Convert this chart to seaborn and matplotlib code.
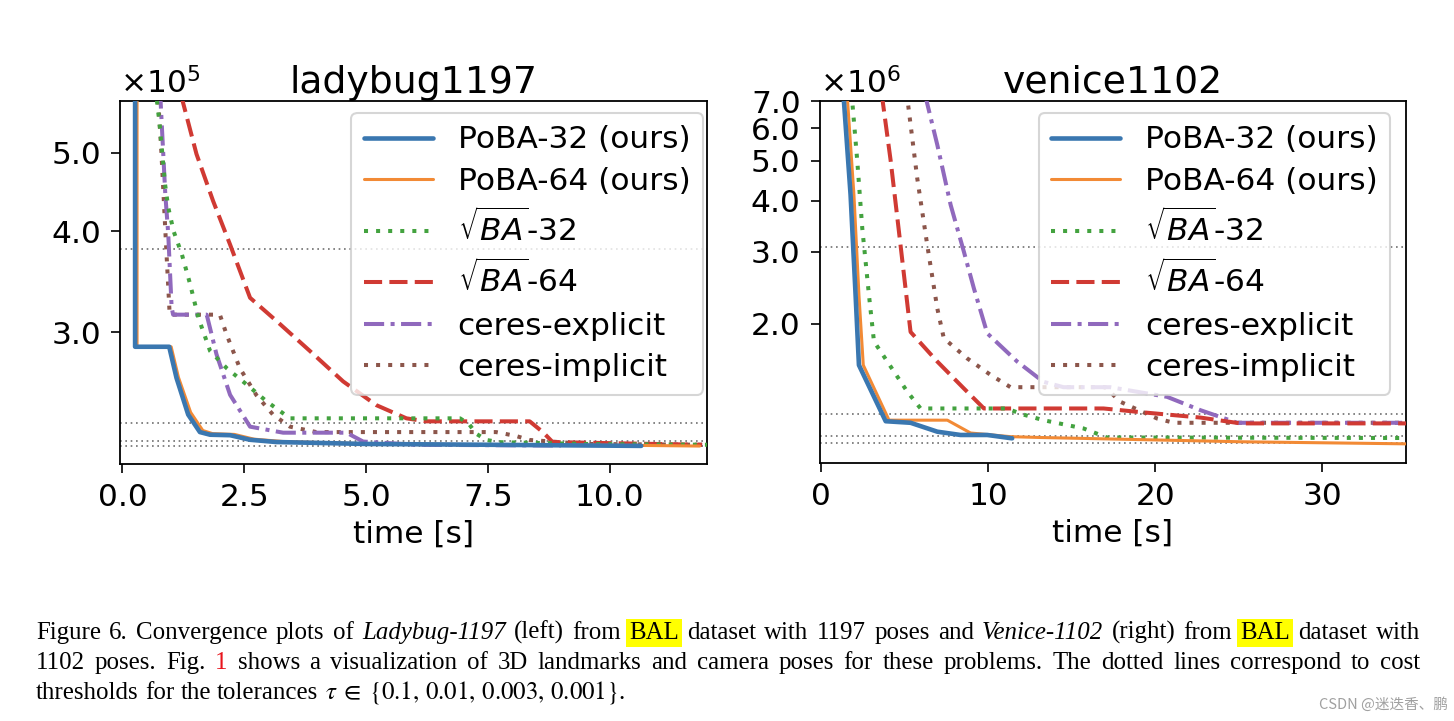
import matplotlib
matplotlib.use("Agg")
import matplotlib.pyplot as plt
from matplotlib.ticker import NullLocator
import seaborn as sns

# ---------------- data ----------------
series_labels = ["PoBA-32 (ours)", "PoBA-64 (ours)", r"$\sqrt{BA}$-32",
                 r"$\sqrt{BA}$-64", "ceres-explicit", "ceres-implicit"]

# ladybug1197 (time [s], cost)
lady_poba32_t = [0.26, 0.26, 0.96, 1.11, 1.35, 1.59, 1.80, 2.21, 2.62, 3.16, 5.0, 7.5, 10.65]
lady_poba32_c = [6.0e5, 2.88e5, 2.88e5, 2.636e5, 2.375e5, 2.26e5, 2.243e5, 2.24e5, 2.211e5,
                 2.197e5, 2.185e5, 2.18e5, 2.173e5]
lady_poba64_t = [0.30, 0.30, 1.00, 1.15, 1.40, 1.65, 1.85, 2.30, 2.70, 3.30, 5.0, 7.5, 10.6, 11.85]
lady_poba64_c = [6.0e5, 2.88e5, 2.88e5, 2.64e5, 2.39e5, 2.27e5, 2.25e5, 2.245e5, 2.215e5,
                 2.20e5, 2.186e5, 2.18e5, 2.176e5, 2.172e5]
lady_sba32_t = [0.68, 0.77, 0.875, 0.94, 1.05, 1.22, 1.39, 1.56, 1.80, 2.14, 2.55, 2.96, 3.44,
                6.93, 7.12, 7.26, 7.47, 7.74, 9.5, 12.0]
lady_sba32_c = [6.0e5, 5.37e5, 4.57e5, 4.28e5, 4.0e5, 3.745e5, 3.44e5, 3.126e5, 2.845e5, 2.71e5,
                2.587e5, 2.466e5, 2.35e5, 2.35e5, 2.31e5, 2.25e5, 2.21e5, 2.196e5, 2.185e5, 2.18e5]
lady_sba64_t = [1.20, 1.52, 1.86, 2.21, 2.62, 3.16, 3.85, 4.53, 5.21, 5.83, 6.23, 8.36, 8.63,
                8.83, 10.0, 11.9]
lady_sba64_c = [5.9e5, 4.98e5, 4.36e5, 3.85e5, 3.31e5, 3.10e5, 2.845e5, 2.61e5, 2.44e5, 2.35e5,
                2.33e5, 2.33e5, 2.26e5, 2.197e5, 2.19e5, 2.18e5]
lady_cexp_t = [0.77, 0.88, 0.94, 1.01, 1.04, 1.73, 1.93, 2.21, 2.62, 3.30, 4.6, 4.94, 6.0, 9.0]
lady_cexp_c = [6.0e5, 4.44e5, 3.97e5, 3.22e5, 3.155e5, 3.155e5, 2.82e5, 2.512e5, 2.295e5,
               2.256e5, 2.256e5, 2.20e5, 2.18e5, 2.175e5]
lady_cimp_t = [0.72, 0.80, 0.90, 0.97, 2.0, 2.14, 2.41, 2.75, 3.09, 3.44, 3.98, 7.67, 8.08, 8.35,
               9.5, 12.0]
lady_cimp_c = [6.0e5, 5.0e5, 3.8e5, 3.155e5, 3.155e5, 2.98e5, 2.71e5, 2.51e5, 2.375e5, 2.295e5,
               2.26e5, 2.26e5, 2.235e5, 2.21e5, 2.185e5, 2.18e5]
lady_thresholds = [3.80e5, 2.32e5, 2.206e5, 2.175e5]

# venice1102 (time [s], cost)
ven_poba32_t = [1.33, 1.76, 2.06, 2.26, 3.86, 5.35, 6.95, 8.34, 9.94, 11.43]
ven_poba32_c = [7.3e6, 4.13e6, 2.35e6, 1.585e6, 1.156e6, 1.146e6, 1.09e6, 1.07e6, 1.07e6, 1.05e6]
ven_poba64_t = [1.55, 1.96, 2.26, 2.52, 4.06, 7.55, 8.94, 11.33, 13.1, 25.1, 35.0]
ven_poba64_c = [7.3e6, 4.13e6, 2.35e6, 1.585e6, 1.163e6, 1.163e6, 1.082e6, 1.06e6, 1.055e6,
                1.03e6, 1.018e6]
ven_sba32_t = [1.82, 2.16, 2.46, 2.86, 3.16, 3.96, 5.16, 5.95, 11.1, 12.1, 13.3, 15.7, 17.1, 35.0]
ven_sba32_c = [7.3e6, 5.0e6, 3.42e6, 2.35e6, 1.81e6, 1.617e6, 1.364e6, 1.242e6, 1.242e6, 1.20e6,
               1.163e6, 1.11e6, 1.055e6, 1.052e6]
ven_sba64_t = [3.62, 4.16, 4.75, 5.35, 6.95, 8.54, 9.74, 16.9, 18.9, 22.7, 25.1, 35.0]
ven_sba64_c = [7.3e6, 5.0e6, 3.11e6, 1.91e6, 1.617e6, 1.39e6, 1.242e6, 1.242e6, 1.219e6, 1.18e6,
               1.142e6, 1.142e6]
ven_cexp_t = [6.20, 6.95, 7.75, 8.54, 9.14, 9.94, 11.73, 13.3, 14.5, 17.3, 20.7, 22.7, 24.9, 35.0]
ven_cexp_c = [7.3e6, 5.47e6, 3.9e6, 3.0e6, 2.44e6, 1.895e6, 1.617e6, 1.443e6, 1.40e6, 1.40e6,
              1.326e6, 1.23e6, 1.146e6, 1.146e6]
ven_cimp_t = [5.12, 5.75, 6.35, 6.95, 7.34, 8.74, 10.14, 11.33, 17.0, 17.9, 20.1, 21.1, 35.0]
ven_cimp_c = [7.3e6, 4.53e6, 3.11e6, 2.18e6, 1.843e6, 1.646e6, 1.50e6, 1.40e6, 1.40e6, 1.29e6,
              1.174e6, 1.146e6, 1.146e6]
ven_thresholds = [3.086e6, 1.207e6, 1.063e6, 1.02e6]

lady_xticks = [0.0, 2.5, 5.0, 7.5, 10.0]
lady_xticklabels = ["0.0", "2.5", "5.0", "7.5", "10.0"]
lady_yticks = [3e5, 4e5, 5e5]
lady_yticklabels = ["3.0", "4.0", "5.0"]
ven_xticks = [0, 10, 20, 30]
ven_xticklabels = ["0", "10", "20", "30"]
ven_yticks = [2e6, 3e6, 4e6, 5e6, 6e6, 7e6]
ven_yticklabels = ["2.0", "3.0", "4.0", "5.0", "6.0", "7.0"]

cap_line1 = [("Figure", "n"), ("6.", "n"), ("Convergence", "n"), ("plots", "n"), ("of", "n"),
             ("Ladybug-1197", "i"), ("(left)", "n"), ("from", "n"), ("BAL", "h"),
             ("dataset", "n"), ("with", "n"), ("1197", "n"), ("poses", "n"), ("and", "n"),
             ("Venice-1102", "i"), ("(right)", "n"), ("from", "n"), ("BAL", "h"),
             ("dataset", "n"), ("with", "n")]
cap_line2 = [("1102", "n"), ("poses.", "n"), ("Fig.", "n"), ("1", "r"), ("shows", "n"),
             ("a", "n"), ("visualization", "n"), ("of", "n"), ("3D", "n"), ("landmarks", "n"),
             ("and", "n"), ("camera", "n"), ("poses", "n"), ("for", "n"), ("these", "n"),
             ("problems.", "n"), ("The", "n"), ("dotted", "n"), ("lines", "n"),
             ("correspond", "n"), ("to", "n"), ("cost", "n")]
cap_line3 = [("thresholds", "n"), ("for", "n"), ("the", "n"), ("tolerances", "n"),
             (r"$\tau\;\in\;\{0.1,\,0.01,\,0.003,\,0.001\}$.", "m")]
watermark = "CSDN @迷迭香、鹏"

# ---------------- style ----------------
colors = ["#3a77b0", "#f28a35", "#43a23f", "#d03a33", "#9069bd", "#8c564b"]
styles = ["-", "-", (0, (1, 2)), (0, (4.5, 1.8)), (0, (5, 1.6, 1, 1.6)), (0, (1, 2))]
widths = [3.3, 2.2, 2.9, 2.9, 2.9, 2.9]

sns.set_style("ticks")
plt.rcParams["font.family"] = ["DejaVu Sans"]
plt.rcParams["mathtext.fontset"] = "dejavusans"
for k in ["text.color", "axes.labelcolor", "xtick.color", "ytick.color", "axes.edgecolor"]:
    plt.rcParams[k] = "black"

FS = 22.5
W, H = 1454, 721
fig = plt.figure(figsize=(W / 100, H / 100), dpi=100)
fig.patch.set_facecolor("white")
axL = fig.add_axes([120 / W, 1 - 464 / H, 587 / W, 363 / H])
axR = fig.add_axes([819.5 / W, 1 - 463 / H, 586.5 / W, 362 / H])

panels = [
    dict(ax=axL, title="ladybug1197", offset=r"$\times10^{5}$",
         series=[(lady_poba32_t, lady_poba32_c), (lady_poba64_t, lady_poba64_c),
                 (lady_sba32_t, lady_sba32_c), (lady_sba64_t, lady_sba64_c),
                 (lady_cexp_t, lady_cexp_c), (lady_cimp_t, lady_cimp_c)],
         thr=lady_thresholds, xlim=(-0.05, 12.0), ylim=(2.064e5, 5.79e5),
         xt=lady_xticks, xtl=lady_xticklabels, yt=lady_yticks, ytl=lady_yticklabels,
         anchor=((703 - 120) / 587, 1 - 12 / 363)),
    dict(ax=axR, title="venice1102", offset=r"$\times10^{6}$",
         series=[(ven_poba32_t, ven_poba32_c), (ven_poba64_t, ven_poba64_c),
                 (ven_sba32_t, ven_sba32_c), (ven_sba64_t, ven_sba64_c),
                 (ven_cexp_t, ven_cexp_c), (ven_cimp_t, ven_cimp_c)],
         thr=ven_thresholds, xlim=(-0.1, 35.0), ylim=(9.14e5, 7.0e6),
         xt=ven_xticks, xtl=ven_xticklabels, yt=ven_yticks, ytl=ven_yticklabels,
         anchor=((1390 - 819.5) / 586.5, 1 - 12 / 362)),
]

order = [4, 5, 3, 2, 1, 0]
for p in panels:
    ax = p["ax"]
    handles = {}
    for i in order:
        t, c = p["series"][i]
        sns.lineplot(x=t, y=c, ax=ax, estimator=None, sort=False, color=colors[i],
                     linestyle=styles[i], linewidth=widths[i], zorder=3 + (6 - i) * 0.1)
        handles[i] = ax.lines[-1]
    for th in p["thr"]:
        ax.axhline(th, color="#707070", linestyle=(0, (1, 2.2)), linewidth=1.2, zorder=2)
    ax.set_yscale("log")
    ax.set_xlim(*p["xlim"])
    ax.set_ylim(*p["ylim"])
    ax.set_xticks(p["xt"])
    ax.set_xticklabels(p["xtl"])
    ax.set_yticks(p["yt"])
    ax.set_yticklabels(p["ytl"])
    ax.yaxis.set_minor_locator(NullLocator())
    ax.tick_params(axis="both", which="major", labelsize=FS, length=6.5, width=1.2,
                   direction="out", color="black", labelcolor="black", pad=7)
    for s in ax.spines.values():
        s.set_color("black")
        s.set_linewidth(1.3)
    ax.set_xlabel("time [s]", fontsize=FS, labelpad=6, color="black")
    ax.set_ylabel("")
    ax.set_title(p["title"], fontsize=27.2, pad=5, color="black")
    ax.text(0.0, 1.004, p["offset"], transform=ax.transAxes, ha="left", va="bottom",
            fontsize=FS, color="black")
    leg = ax.legend([handles[i] for i in range(6)], series_labels, loc="upper right",
                    bbox_to_anchor=p["anchor"], borderaxespad=0, fontsize=FS,
                    handlelength=2.2, labelspacing=0.4, framealpha=0.8, fancybox=True)
    for txt in leg.get_texts():
        txt.set_color("black")
    leg.get_frame().set_edgecolor("#cccccc")
    leg.get_frame().set_linewidth(1.5)
    leg.set_zorder(10)

# ---------------- caption ----------------
renderer = fig.canvas.get_renderer()
serif = ["Liberation Serif", "DejaVu Serif"]


def make_text(txt, sty, size):
    kw = dict(fontsize=size, family=serif, color="black", va="baseline", ha="left")
    if sty == "i":
        kw["style"] = "italic"
    if sty == "r":
        kw["color"] = "#e8141c"
    if sty == "h":
        kw["bbox"] = dict(boxstyle="square,pad=0.12", fc="#ffff00", ec="none")
    if sty == "m":
        kw["math_fontfamily"] = "stix"
    return fig.text(0, 0, txt, **kw)


def measure(tokens, size):
    ws = []
    for txt, sty in tokens:
        t = make_text(txt, "n" if sty == "h" else sty, size)
        ws.append(t.get_window_extent(renderer).width)
        t.remove()
    return ws


def space_width(size):
    a = make_text("x x", "n", size)
    b = make_text("xx", "n", size)
    w = a.get_window_extent(renderer).width - b.get_window_extent(renderer).width
    a.remove()
    b.remove()
    return w


x_left, x_right = 36, 1420
base = 14.0
w1 = measure(cap_line1, base)
nat = sum(w1) + (len(w1) - 1) * space_width(base)
size = base * (x_right - x_left) / nat * 0.975
sp = space_width(size)

for tokens, base_y, justify in [(cap_line1, 639, True), (cap_line2, 669, True),
                                (cap_line3, 699, False)]:
    ws = measure(tokens, size)
    gap = (x_right - x_left - sum(ws)) / (len(ws) - 1) if justify else sp
    x = x_left
    for (txt, sty), w in zip(tokens, ws):
        t = make_text(txt, sty, size)
        t.set_position((x / W, 1 - base_y / H))
        x += w + gap

fig.text(1448 / W, 1 - 709 / H, watermark, ha="right", va="baseline", fontsize=10.5,
         color="#a0a0a0", family=["Noto Sans CJK SC", "DejaVu Sans"])

fig.savefig("out.png", dpi=100, facecolor="white")
